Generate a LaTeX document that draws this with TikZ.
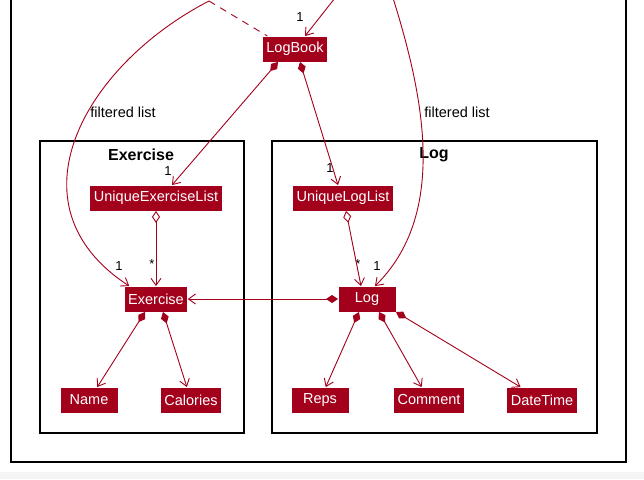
\documentclass[tikz,border=0pt]{standalone}
\usepackage{fontspec}
\setmainfont{Liberation Sans}
\usetikzlibrary{arrows.meta}
\definecolor{umlred}{RGB}{163,0,28}

\begin{document}
\begin{tikzpicture}
  [x=1pt,y=-1pt,line width=.9pt,
   every node/.style={font=\fontsize{14.5}{16}\selectfont},
   cls/.style={rectangle,fill=umlred,text=white,minimum height=25pt,minimum width=57pt,inner xsep=3.5pt,inner ysep=2pt},
   lbl/.style={inner sep=1pt},
   mult/.style={inner sep=0pt,font=\fontsize{13}{14}\selectfont},
   title/.style={inner sep=0pt,font=\fontsize{16}{18}\selectfont\bfseries},
   pkg/.style={draw=black,line width=1.4pt},
   link/.style={draw=umlred,-{Straight Barb[length=7pt,width=10pt]}},
   comp/.style={draw=umlred,{Diamond[length=12pt,width=8pt]}-{Straight Barb[length=7pt,width=10pt]}},
   aggr/.style={draw=umlred,{Diamond[open,fill=white,length=12pt,width=8pt]}-{Straight Barb[length=7pt,width=10pt]}}]

  \useasboundingbox (0,0) rectangle (644,479);
  \fill[black!4] (0,472) rectangle (644,479);

  % packages
  \draw[pkg] (11,-10) rectangle (626,462);
  \draw[pkg] (40,141) rectangle (244,433);
  \draw[pkg] (272,141) rectangle (597,433);
  \node[title] (extitle) at (141,155) {Exercise};
  \node[title] (logtitle) at (434,155) {Log};

  \node[cls] (lb) at (295,49) {LogBook};
  \node[cls] (uel) at (156,198) {UniqueExerciseList};
  \node[cls] (ull) at (343,198) {UniqueLogList};
  \node[cls] (ex) at (156,299) {Exercise};
  \node[cls] (log) at (367,299) {Log};
  \node[cls] (name) at (89,400) {Name};
  \node[cls] (cal) at (191,400) {Calories};
  \node[cls] (reps) at (320,400) {Reps};
  \node[cls] (comm) at (429,400) {Comment};
  \node[cls] (dt) at (542,400) {DateTime};

  \coordinate (topl) at (209,1);
  \coordinate (topr) at (393,-2);
  \coordinate (topm) at (335,-2);

  \node[lbl] (fl1) at (123,112) {filtered list};
  \node[lbl] (fl2) at (457,112) {filtered list};
  \node[mult] (m1) at (300,17) {1};
  \node[mult] (m2) at (168,171) {1};
  \node[mult] (m3) at (330,168) {1};
  \node[mult] (m4) at (152,264) {*};
  \node[mult] (m5) at (119,266) {1};
  \node[mult] (m6) at (358,264) {*};
  \node[mult] (m7) at (377,266) {1};

  \draw[link] (topm) -- ([xshift=10pt]lb.north);
  \draw[draw=umlred,dashed,dash pattern=on 7pt off 6pt] (topl) -- ([xshift=5pt]lb.north west);
  \draw[link] (topl) .. controls (85,65) and (5,205) .. ([xshift=5pt]ex.north west);
  \draw[link] (topr) .. controls (425,100) and (447,215) .. ([xshift=8pt]log.north);

  \draw[comp] ([xshift=-17pt]lb.south) -- ([xshift=16pt]uel.north);
  \draw[comp] ([xshift=5pt]lb.south) -- ([xshift=-5pt]ull.north);
  \draw[aggr] (uel.south) -- (ex.north);
  \draw[aggr] ([xshift=3pt]ull.south) -- ([xshift=-6pt]log.north);
  \draw[comp] (log) -- (ex);

  \foreach \from/\dx/\to in {ex/-11/name,ex/7/cal,log/-8/reps,log/12/comm,log/29/dt}
    \draw[comp] ([xshift=\dx pt]\from.south) -- (\to);

\end{tikzpicture}
\end{document}
